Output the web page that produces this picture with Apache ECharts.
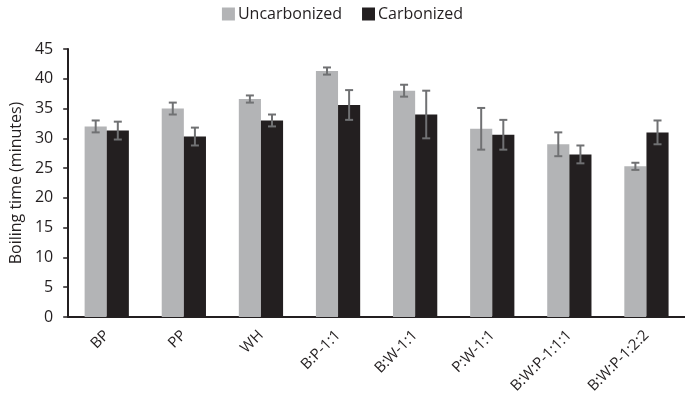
<!DOCTYPE html>
<html><head><meta charset="utf-8">
<script src="https://cdn.jsdelivr.net/npm/echarts@6/dist/echarts.min.js"></script>
<style>html,body{margin:0;padding:0;background:#fff}#c{width:685px;height:403px}</style>
</head><body><div id="c"></div>
<script>
var categories = ['BP', 'PP', 'WH', 'B:P-1:1', 'B:W-1:1', 'P:W-1:1', 'B:W:P-1:1:1', 'B:W:P-1:2:2'];
var uncarbonized = [32, 35, 36.6, 41.3, 38, 31.6, 29, 25.3];
var uncarbonizedErr = [1, 1, 0.6, 0.6, 1, 3.5, 2, 0.6];
var carbonized = [31.3, 30.3, 33, 35.6, 34, 30.6, 27.3, 31];
var carbonizedErr = [1.5, 1.5, 1, 2.5, 4, 2.5, 1.5, 2];
var yTicks = {min: 0, max: 45, interval: 5};

var FONT = 'Open Sans';
var BAR_FRAC = 0.287;
function errData(vals, errs) {
  return vals.map(function (v, i) { return [i, v - errs[i], v + errs[i]]; });
}
function errSeries(vals, errs, side) {
  return {
    type: 'custom',
    z: 10,
    silent: true,
    data: errData(vals, errs),
    encode: {x: 0, y: [1, 2]},
    renderItem: function (params, api) {
      var band = api.size([1, 0])[0];
      var off = side * band * BAR_FRAC / 2;
      var lo = api.coord([api.value(0), api.value(1)]);
      var hi = api.coord([api.value(0), api.value(2)]);
      var x = lo[0] + off, cap = 4;
      var st = {stroke: '#707173', lineWidth: 2};
      return {type: 'group', children: [
        {type: 'line', shape: {x1: x, y1: lo[1], x2: x, y2: hi[1]}, style: st},
        {type: 'line', shape: {x1: x - cap, y1: lo[1], x2: x + cap, y2: lo[1]}, style: st},
        {type: 'line', shape: {x1: x - cap, y1: hi[1], x2: x + cap, y2: hi[1]}, style: st}
      ]};
    }
  };
}

var chart = echarts.init(document.getElementById('c'), null, {renderer: 'canvas'});
chart.setOption({
  animation: false,
  textStyle: {fontFamily: FONT},
  legend: {
    top: 1, left: 'center',
    itemWidth: 13, itemHeight: 13, itemGap: 20,
    icon: 'rect',
    textStyle: {fontFamily: FONT, fontSize: 16, color: '#231f20', padding: [0, 0, 0, -2]},
    data: ['Uncarbonized', 'Carbonized']
  },
  grid: {left: 63, right: 0, top: 49, bottom: 86, containLabel: false},
  xAxis: {
    type: 'category',
    data: categories,
    axisLine: {lineStyle: {color: '#231f20', width: 2}},
    axisTick: {show: false},
    axisLabel: {rotate: 45, margin: 16, fontFamily: FONT, fontSize: 15, color: '#231f20', interval: 0}
  },
  yAxis: {
    type: 'value',
    min: yTicks.min, max: yTicks.max, interval: yTicks.interval,
    name: 'Boiling time (minutes)',
    nameLocation: 'middle',
    nameGap: 44,
    nameTextStyle: {fontFamily: FONT, fontSize: 16, color: '#231f20'},
    axisLine: {show: true, lineStyle: {color: '#231f20', width: 2}},
    axisTick: {show: true, length: 5, lineStyle: {color: '#231f20', width: 1.5}},
    axisLabel: {margin: 15, fontFamily: FONT, fontSize: 16, color: '#231f20'},
    splitLine: {show: false}
  },
  series: [
    {name: 'Uncarbonized', type: 'bar', data: uncarbonized, barWidth: (BAR_FRAC * 100) + '%', barGap: '0%',
     itemStyle: {color: '#b3b4b6'}},
    {name: 'Carbonized', type: 'bar', data: carbonized, barWidth: (BAR_FRAC * 100) + '%', barGap: '0%',
     itemStyle: {color: '#231f20'}},
    errSeries(uncarbonized, uncarbonizedErr, -1),
    errSeries(carbonized, carbonizedErr, 1)
  ]
});
</script></body></html>
